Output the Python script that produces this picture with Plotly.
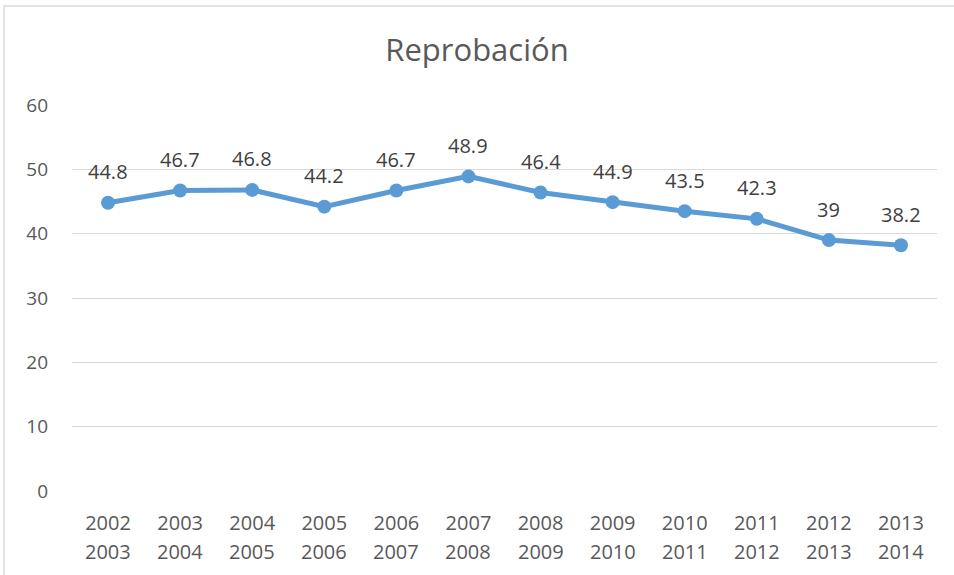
import plotly.graph_objects as go

first_year = ["2002", "2003", "2004", "2005", "2006", "2007", "2008", "2009", "2010", "2011", "2012", "2013"]
second_year = ["2003", "2004", "2005", "2006", "2007", "2008", "2009", "2010", "2011", "2012", "2013", "2014"]
values = [44.8, 46.7, 46.8, 44.2, 46.7, 48.9, 46.4, 44.9, 43.5, 42.3, 39, 38.2]
labels = ["44.8", "46.7", "46.8", "44.2", "46.7", "48.9", "46.4", "44.9", "43.5", "42.3", "39", "38.2"]

cats = [f"{a}-{b}" for a, b in zip(first_year, second_year)]
FONT = "Open Sans"
GREY = "#595959"

fig = go.Figure()
fig.add_trace(go.Scatter(
    x=cats, y=values, mode="lines+markers",
    line=dict(color="#5B9BD5", width=5),
    marker=dict(color="#5B9BD5", size=14),
    hoverinfo="skip", showlegend=False,
))

annotations = []
for c, v, t in zip(cats, values, labels):
    annotations.append(dict(x=c, y=v, text=t, showarrow=False, yshift=31, yanchor="middle",
                            font=dict(family=FONT, size=20, color="#404040")))
for c, b in zip(cats, second_year):
    annotations.append(dict(x=c, y=0, yref="paper", text=b, showarrow=False, yanchor="middle",
                            yshift=-60, font=dict(family=FONT, size=20, color=GREY)))

fig.update_layout(
    width=954, height=575,
    margin=dict(l=72, r=17, t=105, b=84),
    paper_bgcolor="white", plot_bgcolor="white",
    title=dict(text="Reprobación", x=0.5, xanchor="center", y=1 - 50/575, yanchor="middle",
               font=dict(family=FONT, size=31, color=GREY)),
    xaxis=dict(type="category", tickvals=cats, ticktext=first_year, showgrid=False,
               showline=False, zeroline=False, ticks="", ticklabelstandoff=18,
               tickfont=dict(family=FONT, size=20, color=GREY), range=[-0.5, 11.5]),
    yaxis=dict(range=[0, 60], dtick=10, showgrid=True, gridcolor="#D9D9D9", gridwidth=1,
               zeroline=False, showline=False, ticks="", ticklabelstandoff=23,
               tickfont=dict(family=FONT, size=19, color=GREY)),
    annotations=annotations,
    shapes=[dict(type="rect", xref="paper", yref="paper",
                 x0=(4 - 72) / 865, x1=(960 - 72) / 865,
                 y0=(491 - 580) / 386, y1=(491 - 6) / 386,
                 line=dict(color="#D9D9D9", width=1.5), layer="below")],
)

fig.write_html("out.html", config={"displayModeBar": False},
               post_script="document.body.style.margin='0';")
